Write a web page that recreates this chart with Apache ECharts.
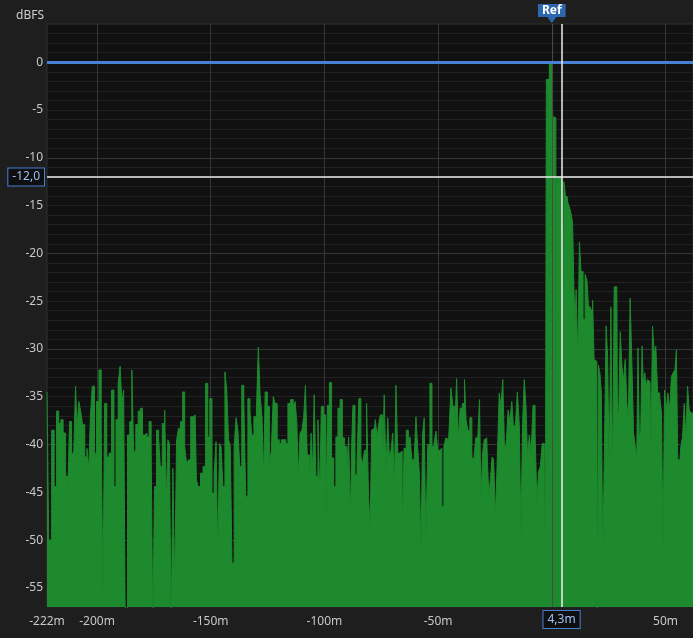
<!DOCTYPE html>
<html><head><meta charset="utf-8">
<script src="https://cdn.jsdelivr.net/npm/echarts@6/dist/echarts.min.js"></script>
<style>html,body{margin:0;padding:0;background:#1e1e1e;}#chart{width:693px;height:638px;}</style>
</head><body><div id="chart"></div>
<script>
// Pre-reference noise floor (metres, dBFS)
const noiseDistM = [
-222,-220.5,-219.4,-218.3,-217.3,-216.4,-215.4,-214.4,-213.2,-212.5,
-211.7,-210.7,-209.8,-209.1,-208.4,-207.6,-206.8,-205.9,-204.9,-204.0,
-203.2,-202.7,-201.5,-200.7,-199.7,-198.6,-197.7,-197.1,-196.2,-195.2,
-194.2,-193.0,-192.1,-191.2,-190.2,-189.5,-188.6,-188.0,-187.1,-186.1,
-185.1,-184.3,-183.5,-182.4,-181.4,-180.5,-179.5,-178.5,-177.6,-176.6,
-175.8,-175.1,-174.4,-173.3,-172.5,-171.9,-170.7,-169.8,-169.2,-168.5,
-167.8,-167.0,-166.3,-165.4,-164.6,-163.7,-162.8,-161.9,-161.0,-160.2,
-159.3,-158.3,-157.2,-156.5,-156.1,-155.0,-154.0,-152.8,-151.7,-150.9,
-149.9,-149.0,-148.0,-147.3,-146.5,-145.8,-145.1,-144.2,-143.3,-142.6,
-141.7,-141.1,-140.2,-139.2,-138.5,-137.6,-136.9,-135.8,-135.1,-134.1,
-133.2,-132.3,-131.6,-130.4,-129.4,-128.7,-127.9,-127.0,-126.5,-125.6,
-124.6,-123.8,-122.9,-122.1,-121.2,-120.3,-119.4,-118.5,-117.5,-116.5,
-115.6,
-114.2,-113.3,-112.5,-111.8,-111.1,-110.3,-109.5,-108.7,-108.0,-107.1,
-106.2,-105.5,-104.8,-104.2,-103.3,-102.4,-101.7,-101.0,-99.9,-99.1,
-98.3,-97.3,-96.4,-95.4,-94.5,-93.6,-92.6,-91.6,-90.6,-89.7,
-89.0,-88.1,-87.8,-87.1,-86.0,-85.3,-84.4,-83.5,-82.8,-81.9,
-81.0,-80.2,-79.6,-78.8,-78.0,-77.2,-76.5,-75.8,-75.0,-74.0,
-73.4,-72.5,-71.8,-71.1,-70.3,-69.6,-68.9,-68.2,-67.3,-66.2,
-65.4,-64.5,-63.5,-62.7,-62.0,-61.1,-60.1,-59.4,-58.6,-57.9,
-57.2,-56.4,-55.8,-55.0,-54.1,-53.1,-52.3,-51.3,-50.6,-49.7,
-48.8,-47.9,-47.0,-46.2,-45.4,-44.7,-44.0,-43.0,-42.2,-41.5,
-40.7,-39.9,-38.8,-38.0,-37.4,-36.5,-35.6,-34.7,-33.9,-33.0,
-32.1,-31.5,-30.8,-30.1,-29.3,-28.6,-28.0,-27.3,-26.5,-26.0,
-25.2,-24.3,-23.5,-22.7,-22.0,-21.1,-20.4,-19.6,-18.8,-18.0,
-17.2,-16.4,-15.6,-14.7,-13.9,-13.2,-12.5,-11.7,-11.0,-10.3,
-9.5,-8.7,-7.8,-6.9,-6.2,-5.4,-4.7,-3.7,-2.9,-2.5
];
const noiseDb = [
-34.5,-50.0,-38.5,-44.4,-36.5,-37.8,-37.4,-38.8,-43.3,-45.3,
-37.6,-40.9,-40.9,-33.9,-38.1,-35.5,-36.5,-37.9,-41.3,-40.4,
-42.6,-37.2,-33.9,-40.9,-35.5,-32.2,-38.5,-55.9,-35.7,-41.3,
-40.9,-34.3,-44.4,-37.4,-33.6,-31.8,-35.7,-34.3,-60,-39.0,
-37.6,-32.2,-40.7,-37.9,-36.5,-36.2,-39.0,-38.8,-39.2,-37.6,
-40.2,-60,-44.4,-38.5,-39.3,-42.3,-37.8,-36.4,-46.1,-39.5,
-39.9,-60,-42.5,-54.5,-39.5,-38.3,-37.6,-34.5,-40.2,-42.0,
-41.6,-37.1,-36.9,-36.9,-43.7,-44.4,-43.0,-42.3,-33.6,-39.2,
-35.2,-45.1,-43.0,-39.7,-51.7,-39.9,-40.2,-44.4,-32.4,-34.3,
-39.5,-40.2,-52.4,-40.2,-37.2,-38.5,-42.3,-33.8,-35.5,-45.4,
-35.2,-36.5,-39.0,-37.1,-36.4,-29.8,-34.8,-37.1,-43.3,-34.5,
-36.0,-42.3,-40.6,-35.0,-35.7,-39.5,-39.9,-39.5,-39.5,-39.9,
-35.7,
-35.3,-36.0,-35.5,-37.6,-43.3,-38.8,-38.5,-37.1,-33.8,-41.1,
-44.9,-38.8,-42.8,-34.8,-43.3,-37.4,-45.4,-36.0,-36.9,-51.9,
-35.9,-33.5,-41.4,-44.4,-39.2,-36.2,-35.3,-39.3,-40.2,-42.8,
-39.2,-47.4,-39.5,-35.9,-43.2,-41.8,-35.2,-41.3,-42.0,-40.6,
-35.7,-45.4,-48.6,-38.5,-38.3,-37.4,-39.2,-37.9,-36.9,-42.6,
-34.8,-43.0,-37.2,-41.3,-40.6,-38.8,-44.7,-33.8,-40.9,-40.7,
-49.3,-40.4,-38.5,-39.5,-39.2,-41.6,-42.0,-37.1,-40.2,-43.0,
-51.0,-38.8,-37.2,-50.3,-40.0,-33.6,-40.2,-39.9,-38.6,-40.6,
-40.4,-46.5,-40.2,-39.3,-39.5,-37.9,-34.1,-36.0,-37.8,-33.1,
-39.5,-36.2,-35.7,-33.2,-37.4,-38.5,-37.2,-41.3,-41.6,-39.3,
-39.5,-35.3,-45.8,-40.9,-39.5,-39.3,-41.8,-45.4,-43.3,-41.3,
-41.6,-47.4,-40.9,-34.6,-36.0,-33.2,-40.9,-39.7,-36.4,-37.6,
-35.5,-38.3,-37.9,-34.5,-37.9,-49.5,-37.8,-33.2,-36.0,-41.4,
-39.0,-40.9,-35.9,-38.8,-46.0,-42.8,-42.3,-39.9,-52.8,-39.5
];
// Direct sound peak
const peakDistM = [-2.3,-1.1,-1.0,0,0.3,0.5,1.8,1.9,2.0,2.5,4.3,4.6,5.0,5.2,5.4,5.8,6.3];
const peakDb    = [-1.8,-1.8,-0.1,0,0,-5.7,-5.8,-45,-12.0,-12.0,-12.0,-12.3,-12.3,-29,-12.5,-12.6,-14.0];
// Decay tail
const tailDistM = [
6.6,7.3,8.1,8.8,9.5,10.0,10.4,11.0,11.9,12.4,
13.3,14.2,15.1,15.8,16.5,17.6,18.3,18.9,19.8,20.2,
20.8,21.5,22.1,22.7,23.6,24.2,24.9,25.6,26.4,27.1,
27.8,28.6,29.2,29.7,30.5,31.2,31.9,32.7,33.3,34.0,
34.9,35.6,36.3,37.1,37.6,38.2,38.8,39.4,40.0,40.6,
41.2,41.8,42.3,43.2,43.9,44.7,45.4,46.1,47.0,47.9,
48.6,49.2,50.0,50.7,51.4,52.3,52.9,53.8,54.5,55.1,
55.7,56.4,57.1,57.9,58.6,59.3,60.1,60.8,61.5,62.1
];
const tailDb = [
-14.1,-14.6,-15.1,-15.8,-16.8,-23.8,-27.3,-23.8,-31.1,-18.8,
-21.9,-26.9,-22.2,-22.8,-25.6,-25.9,-24.9,-31.1,-31.3,-60,
-31.7,-32.5,-34.6,-52.1,-40.6,-27.6,-30.8,-43.0,-25.6,-43.3,
-23.5,-23.5,-37.4,-36.4,-28.2,-31.8,-33.2,-31.1,-35.7,-37.4,
-24.7,-31.8,-38.8,-40.2,-41.6,-29.9,-39.2,-38.8,-29.7,-33.9,
-32.5,-33.9,-33.2,-33.4,-41.6,-27.6,-30.4,-29.7,-34.6,-35.0,
-36.7,-50.7,-34.3,-36.4,-34.6,-36.4,-32.9,-32.5,-32.2,-30.1,
-41.6,-41.6,-40.2,-39.2,-35.7,-39.2,-33.9,-36.4,-36.7,-36.7
];
const xLabelValues = [-222,-200,-150,-100,-50,50];
const yLabelValues = [0,-5,-10,-15,-20,-25,-30,-35,-40,-45,-50,-55];
const xGridValues = [-200,-150,-100,-50,50];
const yMajorValues = [-10,-20,-30,-40,-50];
const refDistM = 0;
const refLevelDb = 0;
const cursorDistM = 4.3;
const cursorDb = -12.0;
const cursorDistLabel = '4,3m';
const cursorDbLabel = '-12,0';

const distM = noiseDistM.concat(peakDistM, tailDistM);
const levelDb = noiseDb.concat(peakDb, tailDb);
const seriesData = distM.map((d, i) => [d, levelDb[i]]);

const FONT = 'Noto Sans';
const GREEN = '#1e8a2e';
const BLUE = '#4a7fd6';
const boxLabel = {
  show: true, position: 'start', color: '#9cc0f2', backgroundColor: '#0f0f0f',
  borderColor: BLUE, borderWidth: 1, padding: [3, 4, 2, 4], fontSize: 12, fontFamily: FONT
};

const chart = echarts.init(document.getElementById('chart'), null, {renderer: 'canvas'});
chart.setOption({
  backgroundColor: '#1e1e1e',
  animation: false,
  textStyle: {fontFamily: FONT},
  title: {text: 'dBFS', left: 11, top: 5,
    textStyle: {color: '#cfcfcf', fontSize: 12, fontWeight: 'normal', fontFamily: FONT}},
  grid: {left: 47, right: 0, top: 24, bottom: 31, show: true,
    backgroundColor: '#111111', borderColor: '#303030', borderWidth: 1},
  xAxis: {type: 'value', min: -222, max: 62.1,
    axisLine: {show: false}, axisTick: {show: false}, splitLine: {show: false},
    axisLabel: {customValues: xLabelValues, formatter: v => Math.round(v) + 'm',
      color: '#c8c8c8', fontSize: 12, margin: 9, fontFamily: FONT}},
  yAxis: {type: 'value', min: -57, max: 4, interval: 1,
    axisLine: {show: false}, axisTick: {show: false},
    splitLine: {show: true, lineStyle: {color: '#222222', width: 1}},
    axisLabel: {interval: 0, formatter: v => yLabelValues.includes(v) ? String(v) : '',
      color: '#c8c8c8', fontSize: 12, margin: 4, fontFamily: FONT}},
  series: [
    {
      type: 'line', z: 1, silent: true, symbol: 'none',
      data: [[refDistM, refLevelDb]], lineStyle: {opacity: 0},
      markLine: {
        z: 1, silent: true, symbol: ['none', 'none'], label: {show: false},
        lineStyle: {color: '#363636', width: 1, type: 'solid'},
        data: xGridValues.map(v => ({xAxis: v})).concat(yMajorValues.map(v => ({yAxis: v})))
      }
    },
    {
      type: 'line', z: 2, data: seriesData, symbol: 'none', showSymbol: false, step: 'middle',
      sampling: null, lineStyle: {color: GREEN, width: 1}, itemStyle: {color: GREEN},
      areaStyle: {color: GREEN, opacity: 1, origin: 'start'}
    },
    {
      type: 'line', z: 3, silent: true, symbol: 'none',
      data: [[refDistM, refLevelDb]], lineStyle: {opacity: 0},
      markLine: {
        z: 5, silent: true, symbol: ['none', 'none'],
        data: [
          {xAxis: refDistM, lineStyle: {color: '#4a4a4a', width: 1, type: 'solid'},
           label: {show: true, position: 'end', formatter: 'Ref', color: '#ffffff', fontWeight: 'bold',
             fontSize: 12, fontFamily: FONT, backgroundColor: '#2d67ad', padding: [1, 4, 0, 4], distance: 7}},
          {yAxis: refLevelDb, lineStyle: {color: BLUE, width: 3, type: 'solid'}, label: {show: false}},
          {yAxis: cursorDb, lineStyle: {color: '#eeeeee', width: 1.5, type: 'solid'},
           label: Object.assign({}, boxLabel, {formatter: cursorDbLabel, distance: 3})},
          {xAxis: cursorDistM, lineStyle: {color: '#eeeeee', width: 1.5, type: 'solid'},
           label: Object.assign({}, boxLabel, {formatter: cursorDistLabel, distance: 4})}
        ]
      },
      markPoint: {
        z: 5, silent: true, symbol: 'triangle', symbolRotate: 180, symbolSize: [9, 6],
        symbolOffset: [0, -4], itemStyle: {color: '#2d67ad'}, label: {show: false},
        data: [{coord: [refDistM, 4]}]
      }
    }
  ]
});
</script></body></html>
